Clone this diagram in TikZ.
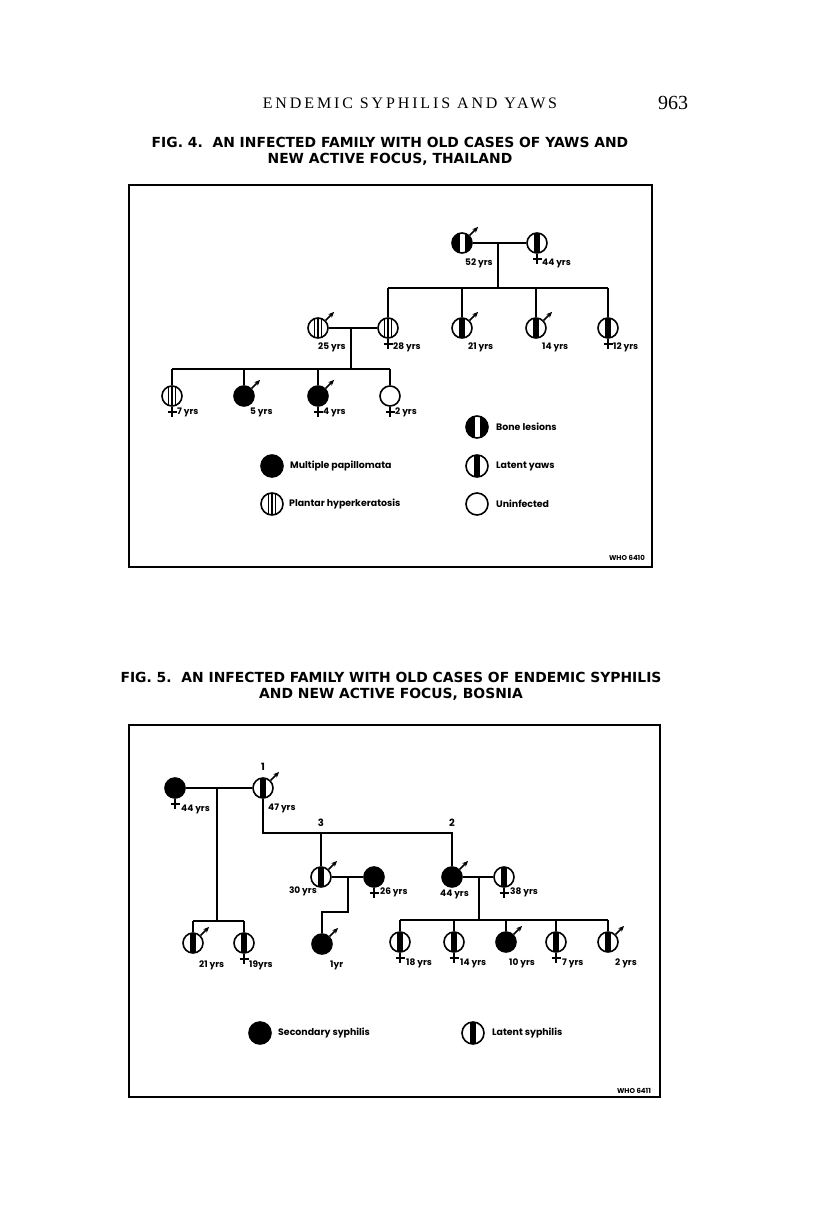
\documentclass[tikz,border=0pt]{standalone}
\usepackage{fontspec}
\setmainfont{Liberation Serif}
\newfontfamily\headfont{Liberation Serif}[LetterSpace=18]
\newfontfamily\titlefont{DejaVu Sans}
\newfontfamily\labelfont{Poppins}
\usetikzlibrary{arrows.meta}

\tikzset{
  person/.style={circle, draw, line width=1.6pt, minimum size=20pt, inner sep=0pt},
  filled/.style={person, fill=black},
  latent/.style={person, path picture={\fill ([xshift=-3pt]path picture bounding box.south) rectangle ([xshift=3pt]path picture bounding box.north);}},
  bone/.style={person, fill=black, path picture={\fill[white] ([xshift=-2.5pt]path picture bounding box.south) rectangle ([xshift=2.5pt]path picture bounding box.north);}},
  plantar/.style={person, path picture={\foreach \dx in {-3.5,0,3.5} \draw[line width=1.1pt] ([xshift=\dx pt]path picture bounding box.south) -- ([xshift=\dx pt]path picture bounding box.north);}},
  tie/.style={line width=1.5pt},
  malearrow/.style={line width=1.5pt, -{Stealth[length=6pt,width=5pt]}},
  age/.style={font=\labelfont\bfseries\fontsize{9}{10}\selectfont, anchor=west, inner sep=0pt},
  gen/.style={font=\labelfont\bfseries\fontsize{10}{12}\selectfont, inner sep=0pt},
  key/.style={font=\labelfont\bfseries\fontsize{9.4}{11}\selectfont, anchor=west, inner sep=0pt},
  figtitle/.style={font=\titlefont\bfseries\fontsize{13.9}{16}\selectfont, align=center},
  plate/.style={font=\labelfont\bfseries\fontsize{7}{8}\selectfont, inner sep=0pt},
}

\begin{document}
\begin{tikzpicture}[x=1pt, y=-1pt]
\useasboundingbox (0,0) rectangle (816,1216);

% page head
\node[font=\headfont\fontsize{16}{18}\selectfont] (head) at (410,103) {ENDEMIC SYPHILIS AND YAWS};
\node[font=\fontsize{20}{22}\selectfont] (page) at (673,103) {963};

% ---------- Fig. 4 ----------
\node[figtitle] (title4) at (390,151) {FIG. 4.\ \ AN INFECTED FAMILY WITH OLD CASES OF YAWS AND\\NEW ACTIVE FOCUS, THAILAND};
\draw[line width=1.3pt] (129,185) rectangle (652,567);

\node[bone] (f52) at (462,243) {};
\node[latent] (m44) at (537,243) {};
\coordinate (d52) at (498,243);
\coordinate (s52) at (498,288);
\node[plantar] (c25) at (318,328) {};
\node[plantar] (c28) at (388,328) {};
\node[latent] (c21) at (462,328) {};
\node[latent] (c14) at (536,328) {};
\node[latent] (c12) at (608,328) {};
\coordinate (d25) at (351,328);
\coordinate (s25) at (351,369);
\node[plantar] (g7) at (172,396) {};
\node[filled] (g5) at (244,396) {};
\node[filled] (g4) at (318,396) {};
\node[person] (g2) at (390,396) {};

\draw[tie] (f52) -- (m44);
\draw[tie] (d52) -- (s52);
\draw[tie] (c28.north |- s52) -- (c12.north |- s52);
\foreach \c in {c28,c21,c14,c12} \draw[tie] (\c.north) -- (\c.north |- s52);
\draw[tie] (c25) -- (c28);
\draw[tie] (d25) -- (s25);
\draw[tie] (g7.north |- s25) -- (g2.north |- s25);
\foreach \c in {g7,g5,g4,g2} \draw[tie] (\c.north) -- (\c.north |- s25);

\node[age] (a52) at (465,263) {52 yrs};
\node[age] (a44) at (542,263) {44 yrs};
\node[age] (a25) at (318,347) {25 yrs};
\node[age] (a28) at (393,347) {28 yrs};
\node[age] (a21) at (468,347) {21 yrs};
\node[age] (a14) at (542,347) {14 yrs};
\node[age] (a12) at (613,347) {12 yrs};
\node[age] (a7) at (177,412) {7 yrs};
\node[age] (a5) at (250,412) {5 yrs};
\node[age] (a4) at (323,412) {4 yrs};
\node[age] (a2) at (395,412) {2 yrs};

% key
\node[bone, minimum size=22pt] (kbone) at (477,427) {};
\node[key] (tbone) at (496,427) {Bone lesions};
\node[filled, minimum size=22pt] (kpap) at (272,466) {};
\node[key] (tpap) at (290,466) {Multiple papillomata};
\node[latent, minimum size=22pt] (kyaw) at (477,466) {};
\node[key] (tyaw) at (496,466) {Latent yaws};
\node[plantar, minimum size=22pt] (kpla) at (272,504) {};
\node[key] (tpla) at (289,504) {Plantar hyperkeratosis};
\node[person, minimum size=22pt] (kuni) at (477,504) {};
\node[key] (tuni) at (496,504) {Uninfected};
\node[plate] (who4) at (627,558) {WHO 6410};

% ---------- Fig. 5 ----------
\node[figtitle] (title5) at (391,686) {FIG. 5.\ \ AN INFECTED FAMILY WITH OLD CASES OF ENDEMIC SYPHILIS\\AND NEW ACTIVE FOCUS, BOSNIA};
\draw[line width=1.3pt] (129,725) rectangle (660,1097);

\node[filled] (gm) at (175,788) {};
\node[latent] (gf) at (263,788) {};
\node[gen] (n1) at (263,767) {1};
\coordinate (dg) at (217,788);
\coordinate (sg) at (217,921);
\node[latent] (s21) at (193,943) {};
\node[latent] (s19) at (244,943) {};
\coordinate (bg) at (263,833);
\node[latent] (k3) at (321,877) {};
\node[filled] (w26) at (374,877) {};
\node[filled] (k2) at (452,877) {};
\node[latent] (h38) at (504,877) {};
\node[gen] (n3) at (321,823) {3};
\node[gen] (n2) at (452,823) {2};
\coordinate (d3) at (348,877);
\coordinate (t3) at (348,912);
\node[filled] (b1) at (322,944) {};
\coordinate (d2) at (479,877);
\coordinate (s2) at (479,920);
\node[latent] (e18) at (400,942) {};
\node[latent] (e14) at (454,942) {};
\node[filled] (e10) at (506,942) {};
\node[latent] (e7) at (556,942) {};
\node[latent] (e2) at (608,942) {};

\draw[tie] (gm) -- (gf);
\draw[tie] (dg) -- (sg);
\draw[tie] (s21.north |- sg) -- (s19.north |- sg);
\foreach \c in {s21,s19} \draw[tie] (\c.north) -- (\c.north |- sg);
\draw[tie] (gf.south) |- (k2.north |- bg) -- (k2.north);
\draw[tie] (k3.north |- bg) -- (k3.north);
\draw[tie] (k3) -- (w26);
\draw[tie] (d3) -- (t3) -| (b1.north);
\draw[tie] (k2) -- (h38);
\draw[tie] (d2) -- (s2);
\draw[tie] (e18.north |- s2) -- (e2.north |- s2);
\foreach \c in {e18,e14,e10,e7,e2} \draw[tie] (\c.north) -- (\c.north |- s2);

\node[age] (b44) at (181,809) {44 yrs};
\node[age] (b47) at (268,808) {47 yrs};
\node[age] (b21) at (199,965) {21 yrs};
\node[age] (b19) at (249,965) {19yrs};
\node[age, anchor=east] (b30) at (317,891) {30 yrs};
\node[age] (b26) at (380,892) {26 yrs};
\node[age] (b44b) at (440,894) {44 yrs};
\node[age] (b38) at (510,892) {38 yrs};
\node[age] (b1y) at (330,965) {1yr};
\node[age] (b18) at (406,963) {18 yrs};
\node[age] (b14) at (460,963) {14 yrs};
\node[age] (b10) at (509,963) {10 yrs};
\node[age] (b7) at (562,963) {7 yrs};
\node[age] (b2) at (615,963) {2 yrs};

% key
\node[filled, minimum size=22pt] (ksec) at (260,1033) {};
\node[key] (tsec) at (278,1033) {Secondary syphilis};
\node[latent, minimum size=22pt] (klat) at (473,1033) {};
\node[key] (tlat) at (492,1033) {Latent syphilis};
\node[plate] (who5) at (634,1091) {WHO 6411};

% sex marks
\foreach \p in {f52,c25,c21,c14,g5,g4,gf,s21,k3,k2,b1,e10,e2}
  \draw[malearrow] (\p.45) -- ++(45:12pt);
\foreach \p in {m44,c28,c12,g7,g4,g2,gm,s19,w26,h38,e18,e14,e7} {
  \draw[tie] (\p.south) -- ++(0,-10pt);
  \draw[tie] ([yshift=-5pt]\p.south) ++(-4.5pt,0) -- ++(9pt,0);
}
\end{tikzpicture}
\end{document}
